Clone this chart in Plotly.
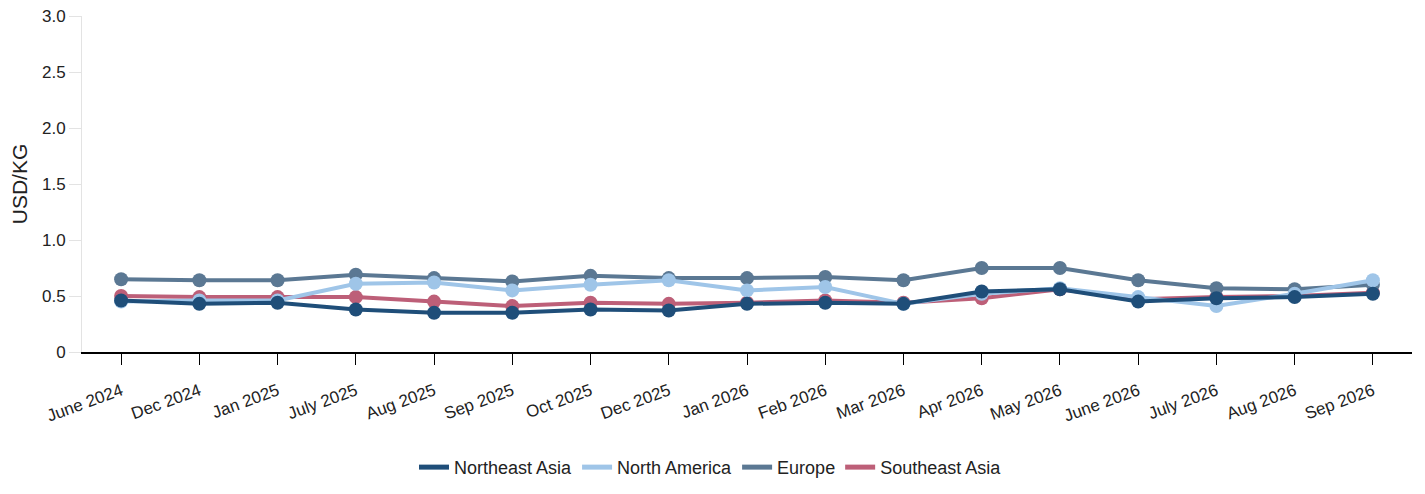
import plotly.graph_objects as go

# ---- data ----
months = ["June 2024", "Dec 2024", "Jan 2025", "July 2025", "Aug 2025", "Sep 2025",
          "Oct 2025", "Dec 2025", "Jan 2026", "Feb 2026", "Mar 2026", "Apr 2026",
          "May 2026", "June 2026", "July 2026", "Aug 2026", "Sep 2026"]

northeast_asia = [0.46, 0.43, 0.44, 0.38, 0.35, 0.35, 0.38, 0.37, 0.43, 0.44, 0.43, 0.54,
                  0.56, 0.45, 0.48, 0.49, 0.52]
north_america = [0.45, 0.46, 0.46, 0.61, 0.62, 0.55, 0.60, 0.64, 0.55, 0.58, 0.43, 0.52,
                 0.57, 0.49, 0.41, 0.52, 0.64]
europe = [0.65, 0.64, 0.64, 0.69, 0.66, 0.63, 0.68, 0.66, 0.66, 0.67, 0.64, 0.75,
          0.75, 0.64, 0.57, 0.56, 0.60]
southeast_asia = [0.50, 0.49, 0.49, 0.49, 0.45, 0.41, 0.44, 0.43, 0.44, 0.46, 0.44, 0.48,
                  0.56, 0.47, 0.49, 0.50, 0.53]

y_ticks = [0, 0.5, 1.0, 1.5, 2.0, 2.5, 3.0]
y_tick_text = ["0", "0.5", "1.0", "1.5", "2.0", "2.5", "3.0"]

series = [
    ("Northeast Asia", northeast_asia, "#1f4e79"),
    ("North America", north_america, "#9fc5e8"),
    ("Europe", europe, "#5b7893"),
    ("Southeast Asia", southeast_asia, "#bd5f78"),
]

fig = go.Figure()

# real lines, drawn so that Northeast Asia ends up on top
for name, vals, color in reversed(series):
    fig.add_trace(go.Scatter(
        x=months, y=vals, name=name, mode="lines+markers",
        line=dict(color=color, width=4),
        marker=dict(color=color, size=14),
        showlegend=False,
    ))

# legend entries: plain line swatches like the original
for name, vals, color in series:
    fig.add_trace(go.Scatter(
        x=[months[0]], y=[None], name=name, mode="lines",
        line=dict(color=color, width=5),
        showlegend=True, hoverinfo="skip",
    ))

# page body adds 8px on each side, so margins are a bit smaller than the picture shows
fig.update_layout(
    width=1425, height=494,
    margin=dict(l=74, r=21, t=8, b=150),
    paper_bgcolor="white", plot_bgcolor="white",
    font=dict(family="Liberation Sans, Arial, sans-serif", size=17, color="#222"),
    legend=dict(orientation="h", xref="container", x=0.493, xanchor="center",
                yref="container", y=0.07, yanchor="middle",
                font=dict(size=18), itemwidth=30, traceorder="normal",
                tracegroupgap=0),
)

fig.update_xaxes(
    type="category", range=[-0.5, 16.5], automargin=False,
    showline=True, linecolor="#000", linewidth=1.5,
    ticks="outside", tickcolor="#000", ticklen=11, tickwidth=1,
    tickangle=-20, showgrid=False, zeroline=False,
    tickfont=dict(size=17), ticklabeloverflow="allow", ticklabelstandoff=10,
)
fig.update_yaxes(
    range=[0, 3.0], tickvals=y_ticks, ticktext=y_tick_text, automargin=False,
    showline=True, linecolor="#e3e3e3", linewidth=1,
    ticks="outside", tickcolor="#e3e3e3", ticklen=12,
    showgrid=False, zeroline=False,
    title=dict(text="USD/KG", font=dict(size=21), standoff=15),
    tickfont=dict(size=17), ticklabeloverflow="allow",
)

fig.write_html("out.html")
